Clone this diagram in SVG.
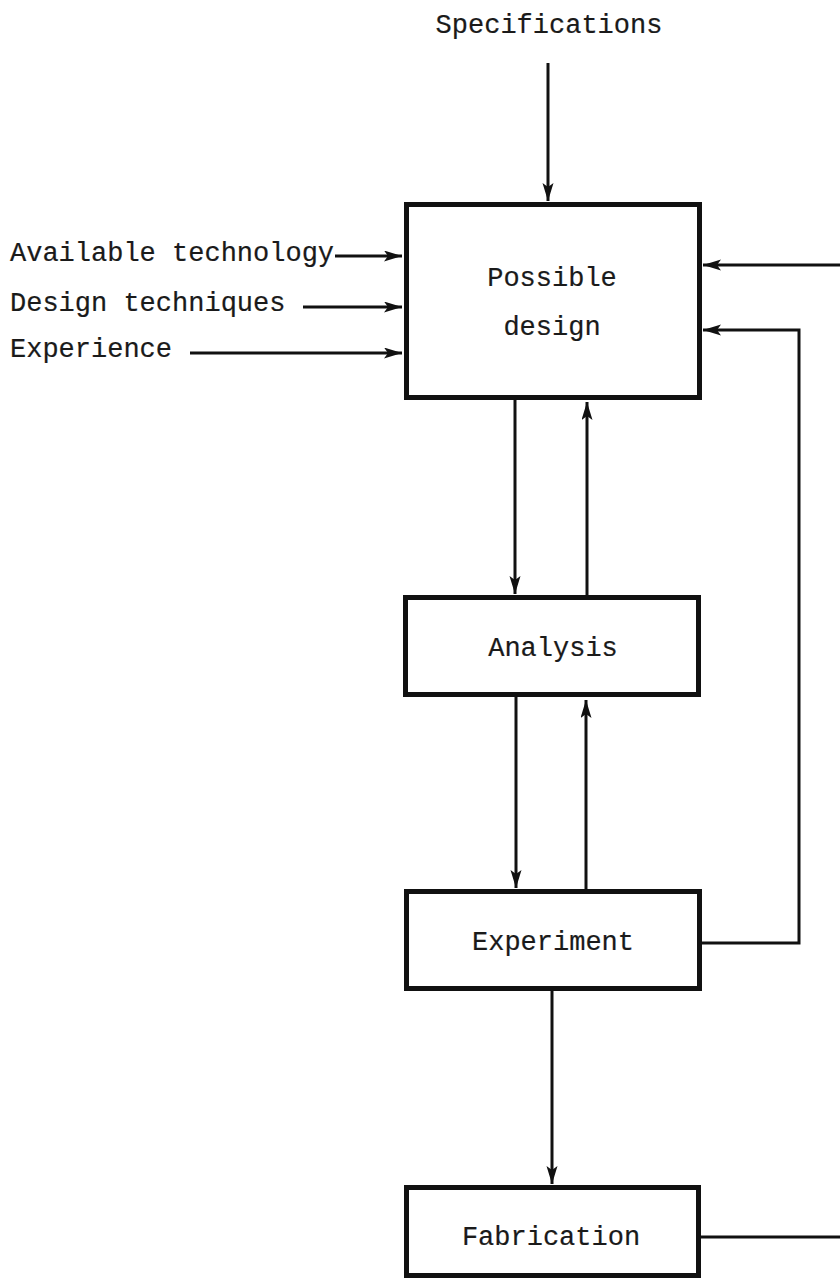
<svg xmlns="http://www.w3.org/2000/svg" width="840" height="1282" viewBox="0 0 840 1282">
<style>
  .box { fill: #ffffff; stroke: #111111; stroke-width: 5; }
  .lbl { font-family: "Liberation Mono", "Courier New", monospace; font-size: 27px; fill: #1a1a1a; stroke: #1a1a1a; stroke-width: 0.2; }
  .mid { text-anchor: middle; }
  .conn { fill: none; stroke: #111111; stroke-width: 3; }
</style>
<defs>
  <marker id="ah" markerUnits="userSpaceOnUse" markerWidth="19" markerHeight="12" refX="18" refY="5.5" orient="auto">
    <path d="M0,0 L18,5.5 L0,11 L4,5.5 z" fill="#111111"/>
  </marker>
</defs>
<rect width="840" height="1282" fill="#ffffff"/>

<g id="connectors">
  <line class="conn" x1="548" y1="63" x2="548" y2="201" marker-end="url(#ah)"/>
  <line class="conn" x1="335" y1="256" x2="402" y2="256" marker-end="url(#ah)"/>
  <line class="conn" x1="303" y1="307" x2="402" y2="307" marker-end="url(#ah)"/>
  <line class="conn" x1="190" y1="353" x2="402" y2="353" marker-end="url(#ah)"/>
  <line class="conn" x1="840" y1="265" x2="703" y2="265" marker-end="url(#ah)"/>
  <polyline class="conn" points="702,943 799,943 799,330 703,330" marker-end="url(#ah)"/>
  <line class="conn" x1="515" y1="400" x2="515" y2="594" marker-end="url(#ah)"/>
  <line class="conn" x1="587" y1="595" x2="587" y2="402" marker-end="url(#ah)"/>
  <line class="conn" x1="516" y1="697" x2="516" y2="888" marker-end="url(#ah)"/>
  <line class="conn" x1="586" y1="889" x2="586" y2="700" marker-end="url(#ah)"/>
  <line class="conn" x1="552" y1="991" x2="552" y2="1184" marker-end="url(#ah)"/>
  <line class="conn" x1="701" y1="1237" x2="840" y2="1237"/>
</g>

<g id="specifications">
  <text class="lbl mid" x="549" y="33">Specifications</text>
</g>
<g id="available-technology">
  <text class="lbl" x="10" y="261">Available technology</text>
</g>
<g id="design-techniques">
  <text class="lbl" x="10" y="311">Design techniques</text>
</g>
<g id="experience">
  <text class="lbl" x="10" y="357">Experience</text>
</g>

<g id="possible-design">
  <rect class="box" x="406.5" y="204.5" width="293" height="193"/>
  <text class="lbl mid" x="552" y="286">Possible</text>
  <text class="lbl mid" x="552" y="335">design</text>
</g>
<g id="analysis">
  <rect class="box" x="405.5" y="597.5" width="293" height="97"/>
  <text class="lbl mid" x="553" y="656">Analysis</text>
</g>
<g id="experiment">
  <rect class="box" x="406.5" y="891.5" width="293" height="97"/>
  <text class="lbl mid" x="553" y="950">Experiment</text>
</g>
<g id="fabrication">
  <rect class="box" x="406.5" y="1187.5" width="292" height="88"/>
  <text class="lbl mid" x="551" y="1245">Fabrication</text>
</g>
</svg>
